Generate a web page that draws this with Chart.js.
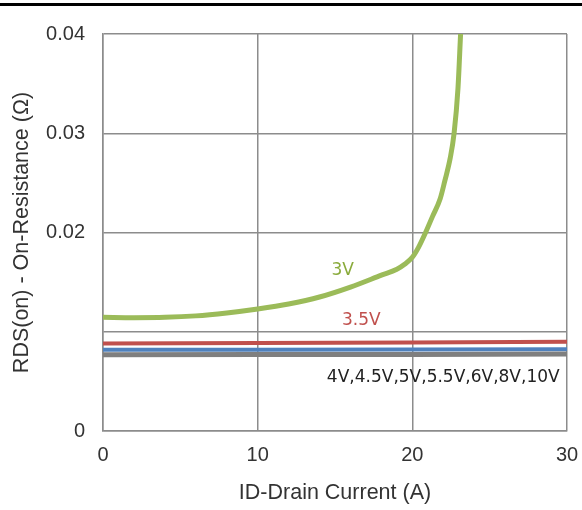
<!DOCTYPE html>
<html>
<head>
<meta charset="utf-8">
<script src="https://cdn.jsdelivr.net/npm/chart.js@4/dist/chart.umd.min.js"></script>
<style>
  html, body { margin: 0; padding: 0; background: #fff; }
  #wrap { position: relative; width: 582px; height: 510px; overflow: hidden; }
  #rule { position: absolute; left: 0; top: 3px; width: 582px; height: 3px; background: #000; }
  canvas { position: absolute; left: 0; top: 0; }
</style>
</head>
<body>
<div id="wrap">
  <canvas id="c" width="582" height="510"></canvas>
  <div id="rule"></div>
</div>
<script>
// Drain current (A) sample points and on-resistance (ohm) per gate voltage
const current3V = [0, 2, 4, 6, 8, 10, 12, 14, 16, 18, 19, 19.5, 20, 20.4, 20.8, 21.3, 21.8, 22.1, 22.45, 22.7, 22.95, 23.12];
const rds3V     = [0.01145, 0.01142, 0.01145, 0.0116, 0.0119, 0.0123, 0.0128, 0.0135, 0.0145, 0.0157, 0.0163, 0.0168, 0.0175, 0.0185, 0.0198, 0.0216, 0.0234, 0.0252, 0.0275, 0.0300, 0.0345, 0.0400];

const currentFlat = [0, 10, 20, 30];
const rds3p5V = [0.00882, 0.00886, 0.00892, 0.00900];
const rds4V   = [0.00818, 0.00818, 0.00820, 0.00824];
const rds45to10V = [0.00768, 0.00770, 0.00772, 0.00776];

const xTicks = [0, 10, 20, 30];
const yTickLabels = ['0', '', '0.02', '0.03', '0.04'];

const curveLabels = [
  { text: '3V', x: 15.5, y: 0.0162, color: '#8aab3c' },
  { text: '3.5V', x: 16.7, y: 0.0111, color: '#c0504d' },
  { text: '4V,4.5V,5V,5.5V,6V,8V,10V', x: 22.0, y: 0.00534, color: '#222' }
];

const pts = (xs, ys) => xs.map((x, i) => ({ x, y: ys[i] }));

const curveText = {
  id: 'curveText',
  afterDatasetsDraw(chart) {
    const { ctx, scales: { x, y } } = chart;
    ctx.save();
    ctx.font = '17px "DejaVu Sans"';
    ctx.textAlign = 'center';
    ctx.textBaseline = 'middle';
    curveLabels.forEach(l => {
      ctx.fillStyle = l.color;
      ctx.fillText(l.text, x.getPixelForValue(l.x), y.getPixelForValue(l.y));
    });
    ctx.restore();
  }
};

const tickFont = { family: '"Liberation Sans", Arial, sans-serif', size: 20 };
const titleFont = { family: '"Liberation Sans", Arial, sans-serif', size: 21.5 };

new Chart(document.getElementById('c'), {
  type: 'line',
  data: {
    datasets: [
      { label: '4.5V-10V', data: pts(currentFlat, rds45to10V), borderColor: '#7f7f7f', borderWidth: 5 },
      { label: '4V', data: pts(currentFlat, rds4V), borderColor: '#4f81bd', borderWidth: 4 },
      { label: '3.5V', data: pts(currentFlat, rds3p5V), borderColor: '#c0504d', borderWidth: 4 },
      { label: '3V', data: pts(current3V, rds3V), borderColor: '#9bbb59', borderWidth: 5, cubicInterpolationMode: 'monotone' }
    ]
  },
  options: {
    responsive: false,
    animation: false,
    layout: { padding: { top: 34, right: 15, bottom: 0, left: 0 } },
    elements: { point: { radius: 0 }, line: { borderCapStyle: 'butt' } },
    plugins: { legend: { display: false }, tooltip: { enabled: false } },
    scales: {
      x: {
        type: 'linear', min: 0, max: 30,
        afterBuildTicks: s => { s.ticks = xTicks.map(v => ({ value: v })); },
        afterFit: s => { s.height = 79; s.paddingLeft = 0; s.paddingRight = 0; },
        grid: { color: '#8c8c8c', lineWidth: 1.5, drawTicks: false },
        border: { color: '#8c8c8c', width: 1.5 },
        ticks: { color: '#333', font: tickFont, padding: 12, maxRotation: 0 },
        title: { display: true, text: 'ID-Drain Current (A)', color: '#333', font: titleFont, padding: { top: 0, bottom: 4 } }
      },
      y: {
        type: 'linear', min: 0, max: 0.04,
        ticks: { stepSize: 0.01, color: '#333', font: tickFont, padding: 18,
                 callback: (v, i) => yTickLabels[i] },
        afterFit: s => { s.width = 103; s.paddingTop = 0; s.paddingBottom = 0; },
        grid: { color: '#8c8c8c', lineWidth: 1.5, drawTicks: false },
        border: { color: '#8c8c8c', width: 1.5 },
        title: { display: true, text: 'RDS(on) - On-Resistance (Ω)', color: '#333', font: titleFont, padding: { top: 9, bottom: 0 } }
      }
    }
  },
  plugins: [curveText]
});
</script>
</body>
</html>
